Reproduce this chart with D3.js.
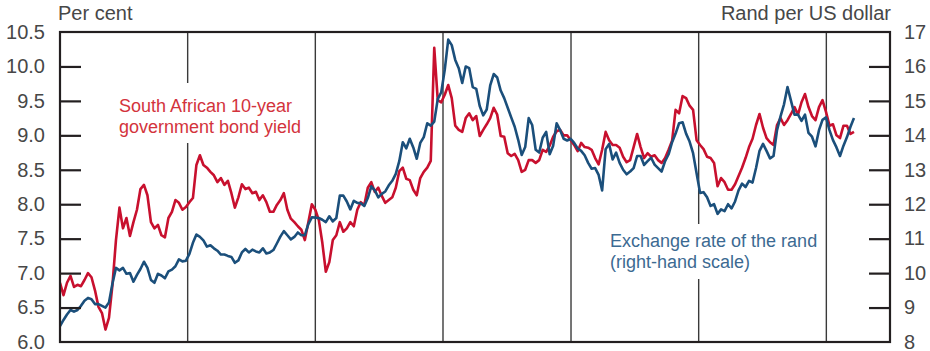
<!DOCTYPE html>
<html><head><meta charset="utf-8">
<script src="https://cdn.jsdelivr.net/npm/d3@7"></script>
<style>body{margin:0;background:#fff} svg{display:block}</style>
</head><body><svg id="chart" width="930" height="351"></svg>
<script>
const sampleStart = "2013-01-01";
const sampleStepDays = 10;
const domainStart = "2013-01-01";
const domainEnd = "2019-07-02";
const yearLines = ["2014-01-01","2015-01-01","2016-01-01","2017-01-01","2018-01-01","2019-01-01"];

// South African 10-year government bond yield, per cent (left scale)
const bondYield = [
6.86,6.68,6.86,6.96,6.80,6.83,6.81,6.90,7.00,6.94,
6.75,6.51,6.42,6.18,6.35,6.83,7.48,7.95,7.65,7.80,
7.54,7.74,7.92,8.22,8.28,8.13,7.74,7.65,7.70,7.55,
7.52,7.80,7.89,8.06,8.02,7.92,7.96,8.03,8.09,8.57,
8.71,8.57,8.53,8.47,8.42,8.32,8.38,8.28,8.34,8.16,
7.95,8.10,8.29,8.22,8.24,8.16,8.18,8.06,8.13,8.03,
7.89,7.89,7.99,8.06,8.16,7.92,7.79,7.74,7.68,7.63,
7.48,7.74,8.00,7.92,7.77,7.44,7.02,7.16,7.48,7.55,
7.74,7.60,7.65,7.74,7.68,7.92,8.03,7.99,8.24,8.32,
8.18,8.24,8.12,8.02,8.06,8.10,8.24,8.48,8.53,8.37,
8.35,8.21,8.13,8.38,8.47,8.53,8.63,10.27,9.51,9.48,
9.59,9.73,9.54,9.14,9.08,9.05,9.25,9.32,9.22,9.28,
8.99,9.08,9.16,9.25,9.40,9.30,8.99,8.98,8.74,8.70,
8.73,8.64,8.47,8.50,8.64,8.64,8.60,8.64,8.79,8.76,
8.85,8.98,9.06,9.08,9.00,9.00,8.93,8.86,8.77,8.89,
8.83,8.82,8.79,8.67,8.58,8.79,9.05,8.93,8.86,8.86,
8.82,8.69,8.61,8.64,8.83,9.02,8.83,8.67,8.74,8.69,
8.71,8.64,8.60,8.67,8.79,8.92,9.37,9.32,9.57,9.54,
9.43,9.37,8.93,8.86,8.80,8.69,8.67,8.60,8.26,8.38,
8.32,8.21,8.21,8.29,8.41,8.53,8.67,8.83,8.95,9.15,
9.31,9.11,8.96,8.90,8.86,9.15,9.25,9.15,9.22,9.31,
9.41,9.30,9.48,9.60,9.41,9.28,9.22,9.41,9.51,9.34,
9.14,9.16,9.00,8.96,9.14,9.14,9.02,9.05
];

// Exchange rate, rand per US dollar (right scale)
const randPerUSD = [
8.46,8.64,8.80,8.93,8.88,8.93,9.05,9.20,9.28,9.24,
9.10,9.10,9.05,9.00,9.15,9.70,10.15,10.08,10.15,9.98,
10.00,9.75,9.95,10.12,10.33,10.15,9.80,9.72,9.98,9.93,
9.85,10.05,10.10,10.20,10.40,10.34,10.36,10.56,10.88,11.12,
11.05,10.95,10.77,10.81,10.72,10.65,10.54,10.54,10.50,10.47,
10.30,10.37,10.60,10.70,10.60,10.68,10.63,10.60,10.72,10.57,
10.60,10.67,10.86,11.06,11.22,11.10,10.98,11.05,11.18,11.10,
11.10,11.42,11.62,11.61,11.60,11.55,11.48,11.65,11.50,11.60,
12.25,12.25,12.08,11.85,12.10,12.04,12.03,11.95,12.18,12.52,
12.40,12.20,12.30,12.37,12.55,12.68,12.88,13.25,13.80,13.62,
13.90,13.65,13.32,13.78,13.95,14.35,14.28,14.40,15.05,15.25,
15.90,16.78,16.62,16.19,15.95,15.52,16.00,15.95,15.40,15.35,
14.85,14.58,14.75,15.45,15.78,15.68,15.30,15.08,14.80,14.52,
14.25,13.87,13.43,13.66,14.50,14.30,13.58,13.50,13.93,14.10,
13.45,13.70,14.35,14.15,13.90,13.85,13.90,13.78,13.62,13.55,
13.42,13.20,13.03,13.05,12.85,12.40,13.60,13.75,13.30,13.50,
13.20,13.00,12.87,12.95,13.05,13.40,13.40,13.14,13.25,13.35,
13.15,13.05,12.95,13.25,13.45,13.80,14.05,14.35,14.38,14.05,
13.82,13.48,12.90,12.33,12.35,12.20,11.95,12.00,11.72,11.85,
11.80,12.00,11.88,12.08,12.40,12.60,12.50,12.68,12.63,13.05,
13.55,13.75,13.55,13.33,13.40,14.15,14.55,14.90,15.40,15.00,
14.60,14.60,14.42,14.60,14.07,13.96,13.68,14.15,14.45,14.52,
14.15,13.86,13.65,13.40,13.70,13.95,14.25,14.50
];

const leftTicks = [6.0,6.5,7.0,7.5,8.0,8.5,9.0,9.5,10.0,10.5];
const rightTicks = [8,9,10,11,12,13,14,15,16,17];
const leftTitle = "Per cent";
const rightTitle = "Rand per US dollar";
const bondLabel = ["South African 10-year","government bond yield"];
const randLabel = ["Exchange rate of the rand","(right-hand scale)"];

// ---- layout / style ----
const W = 930, H = 351;
const m = {left:60, right:40, top:32, bottom:9};
const RED = "#c8102e", BLUE = "#1b4f7b";
const RED_TXT = "#d3333c", BLUE_TXT = "#3c6a92";
const AX = "#231f20", TXT = "#474747";
const FONT = "'Liberation Sans', Arial, Helvetica, sans-serif";

const parse = d3.utcParse("%Y-%m-%d");
const start = parse(sampleStart);
const dates = bondYield.map((_, i) => d3.utcDay.offset(start, i * sampleStepDays));

const svg = d3.select("#chart");
const x = d3.scaleUtc().domain([parse(domainStart), parse(domainEnd)]).range([m.left, W - m.right]);
const yL = d3.scaleLinear().domain([6, 10.5]).range([H - m.bottom, m.top]);
const yR = d3.scaleLinear().domain([8, 17]).range([H - m.bottom, m.top]);

// year separators
svg.append("g").selectAll("line").data(yearLines.map(parse)).join("line")
  .attr("x1", d => x(d)).attr("x2", d => x(d))
  .attr("y1", m.top).attr("y2", H - m.bottom)
  .attr("stroke", "#3a3a3a").attr("stroke-width", 1.4);

// white boxes behind labels (break the separators)
svg.append("rect").attr("x", 114).attr("y", 83).attr("width", 184).attr("height", 60).attr("fill", "#fff");
svg.append("rect").attr("x", 605).attr("y", 224).attr("width", 216).attr("height", 55).attr("fill", "#fff");

// clip
svg.append("clipPath").attr("id", "clip").append("rect")
  .attr("x", m.left).attr("y", m.top).attr("width", W - m.left - m.right).attr("height", H - m.top - m.bottom);

const lineL = d3.line().x((d, i) => x(dates[i])).y(d => yL(d));
const lineR = d3.line().x((d, i) => x(dates[i])).y(d => yR(d));

const plot = svg.append("g").attr("clip-path", "url(#clip)");
plot.append("path").datum(bondYield).attr("d", lineL)
  .attr("fill", "none").attr("stroke", RED).attr("stroke-width", 2.6).attr("stroke-linejoin", "round");
plot.append("path").datum(randPerUSD).attr("d", lineR)
  .attr("fill", "none").attr("stroke", BLUE).attr("stroke-width", 2.6).attr("stroke-linejoin", "round");

// frame
svg.append("rect").attr("x", m.left).attr("y", m.top)
  .attr("width", W - m.left - m.right).attr("height", H - m.top - m.bottom)
  .attr("fill", "none").attr("stroke", AX).attr("stroke-width", 2.2);

// axes
const gl = svg.append("g").attr("transform", `translate(${m.left},0)`)
  .call(d3.axisRight(yL).tickValues(leftTicks).tickSize(21).tickFormat(""));
gl.select(".domain").remove();
gl.selectAll(".tick line").attr("stroke", AX).attr("stroke-width", 2.2);
gl.selectAll(".tick").filter(d => d === 6 || d === 10.5).select("line").remove();

const gr = svg.append("g").attr("transform", `translate(${W - m.right},0)`)
  .call(d3.axisLeft(yR).tickValues(rightTicks).tickSize(21).tickFormat(""));
gr.select(".domain").remove();
gr.selectAll(".tick line").attr("stroke", AX).attr("stroke-width", 2.2);
gr.selectAll(".tick").filter(d => d === 8 || d === 17).select("line").remove();

// tick labels
svg.append("g").selectAll("text").data(leftTicks).join("text")
  .attr("x", 45).attr("y", d => yL(d)).attr("dy", "0.34em")
  .attr("text-anchor", "end").attr("font-family", FONT).attr("font-size", 20).attr("fill", TXT)
  .text(d3.format(".1f"));
svg.append("g").selectAll("text").data(rightTicks).join("text")
  .attr("x", 904).attr("y", d => yR(d)).attr("dy", "0.34em")
  .attr("text-anchor", "start").attr("font-family", FONT).attr("font-size", 20).attr("fill", TXT)
  .text(d3.format("d"));

// titles
svg.append("text").attr("x", 58).attr("y", 20).attr("font-family", FONT).attr("font-size", 20).attr("fill", TXT).text(leftTitle);
svg.append("text").attr("x", 891).attr("y", 20).attr("text-anchor", "end").attr("font-family", FONT).attr("font-size", 20).attr("fill", TXT).text(rightTitle);

// series labels
svg.append("g").selectAll("text").data(bondLabel).join("text")
  .attr("x", 119).attr("y", (d, i) => 112 + i * 20.5)
  .attr("font-family", FONT).attr("font-size", 18).attr("fill", RED_TXT).text(d => d);
svg.append("g").selectAll("text").data(randLabel).join("text")
  .attr("x", 610).attr("y", (d, i) => 247 + i * 20.5)
  .attr("font-family", FONT).attr("font-size", 18).attr("fill", BLUE_TXT).text(d => d);
</script>
</body></html>
